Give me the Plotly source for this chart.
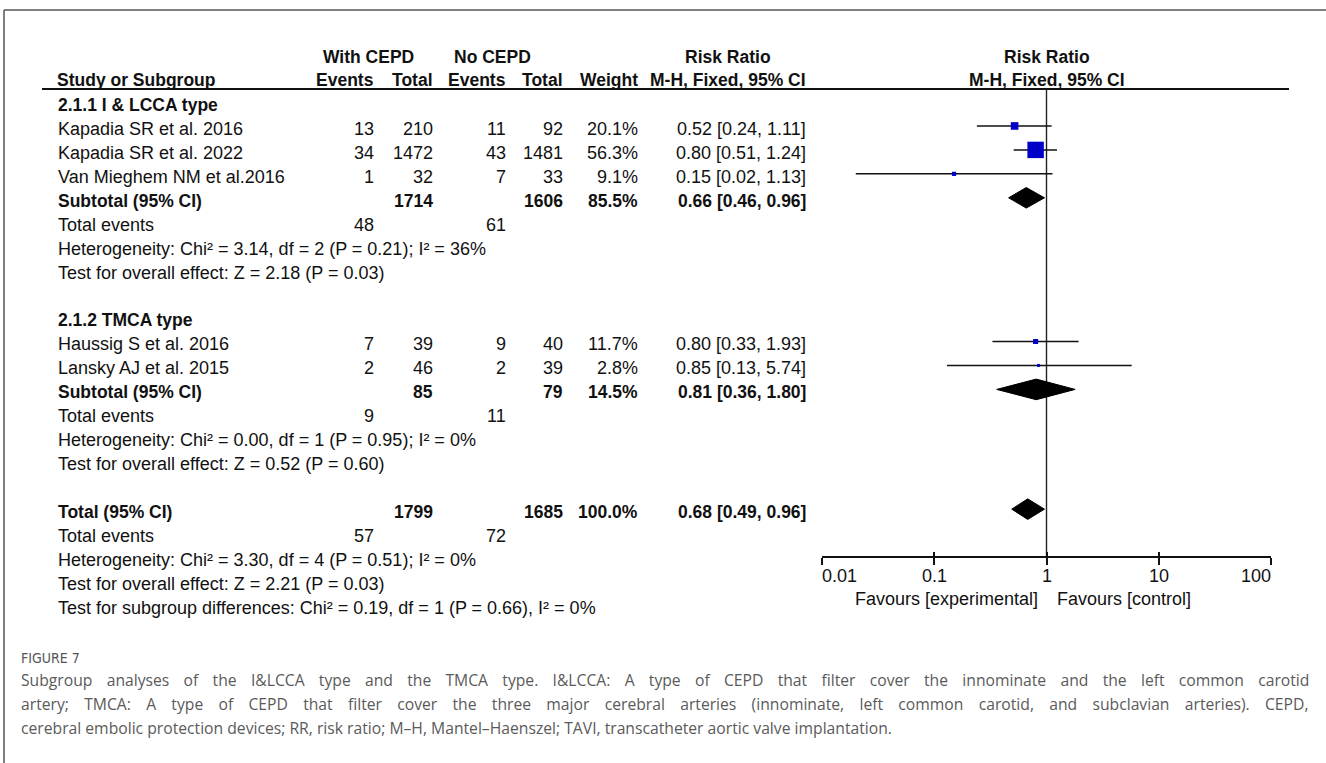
import math
import plotly.graph_objects as go

W, H = 1326, 763

# ---------------- data ----------------
study = ["Kapadia SR et al. 2016", "Kapadia SR et al. 2022", "Van Mieghem NM et al.2016",
         "Haussig S et al. 2016", "Lansky AJ et al. 2015"]
study_group = [0, 0, 0, 1, 1]
ev_cepd = [13, 34, 1, 7, 2]
tot_cepd = [210, 1472, 32, 39, 46]
ev_no = [11, 43, 7, 9, 2]
tot_no = [92, 1481, 33, 40, 39]
weight = [20.1, 56.3, 9.1, 11.7, 2.8]
rr = [0.52, 0.80, 0.15, 0.80, 0.85]
rr_lo = [0.24, 0.51, 0.02, 0.33, 0.13]
rr_hi = [1.11, 1.24, 1.13, 1.93, 5.74]

sub_names = ["2.1.1 I & LCCA type", "2.1.2 TMCA type"]
sub_tot_cepd = [1714, 85]
sub_tot_no = [1606, 79]
sub_weight = [85.5, 14.5]
sub_rr = [0.66, 0.81]
sub_lo = [0.46, 0.36]
sub_hi = [0.96, 1.80]
sub_ev_cepd = [48, 9]
sub_ev_no = [61, 11]
sub_het = ["Heterogeneity: Chi² = 3.14, df = 2 (P = 0.21); I² = 36%",
           "Heterogeneity: Chi² = 0.00, df = 1 (P = 0.95); I² = 0%"]
sub_test = ["Test for overall effect: Z = 2.18 (P = 0.03)",
            "Test for overall effect: Z = 0.52 (P = 0.60)"]

total_cepd = 1799
total_no = 1685
total_weight = 100.0
total_rr = 0.68
total_lo = 0.49
total_hi = 0.96
total_ev_cepd = 57
total_ev_no = 72
total_het = "Heterogeneity: Chi² = 3.30, df = 4 (P = 0.51); I² = 0%"
total_test = "Test for overall effect: Z = 2.21 (P = 0.03)"
subgroup_test = "Test for subgroup differences: Chi² = 0.19, df = 1 (P = 0.66), I² = 0%"

axis_ticks = [0.01, 0.1, 1, 10, 100]
axis_labels = ["0.01", "0.1", "1", "10", "100"]
favours_left = "Favours [experimental]"
favours_right = "Favours [control]"

caption_title = "FIGURE 7"
caption_lines = [
    "Subgroup analyses of the I&LCCA type and the TMCA type. I&LCCA: A type of CEPD that filter cover the innominate and the left common carotid",
    "artery; TMCA: A type of CEPD that filter cover the three major cerebral arteries (innominate, left common carotid, and subclavian arteries). CEPD,",
    "cerebral embolic protection devices; RR, risk ratio; M\u2013H, Mantel\u2013Haenszel; TAVI, transcatheter aortic valve implantation.",
]

# ---------------- layout helpers ----------------
ROW0_PX = 102.0
ROW_H = 23.95
TXT_SHIFT = 0.12   # text sits slightly lower than marks


def prow(py):
    return (py - ROW0_PX) / ROW_H


FONT = "Liberation Sans, Arial, sans-serif"
FS = 18
FSB = 17.5
COL = "#111111"

X_NAME = 58
X_EV1 = 374
X_TOT1 = 433
X_EV2 = 506
X_TOT2 = 563
X_W = 638
X_CI = 806

fig = go.Figure()


def txt(xpx, row, s, anchor="left", bold=False, color=COL, family=FONT):
    fig.add_annotation(x=xpx / W, xref="paper", y=row + TXT_SHIFT, yref="y",
                       text=("<b>%s</b>" % s) if bold else s, showarrow=False,
                       xanchor=anchor, yanchor="middle", borderpad=0, borderwidth=0,
                       font=dict(family=family, size=FSB if bold else FS, color=color))


def ci_text(r, lo, hi):
    return "%.2f [%.2f, %.2f]" % (r, lo, hi)


# headers
txt(368, prow(57) - TXT_SHIFT, "With CEPD", "center", True)
txt(492, prow(57) - TXT_SHIFT, "No CEPD", "center", True)
txt(728, prow(57) - TXT_SHIFT, "Risk Ratio", "center", True)
txt(1047, prow(57) - TXT_SHIFT, "Risk Ratio", "center", True)
hr = prow(80) - TXT_SHIFT
txt(X_NAME - 1, hr, "Study or Subgroup", "left", True)
txt(X_EV1, hr, "Events", "right", True)
txt(X_TOT1, hr, "Total", "right", True)
txt(X_EV2, hr, "Events", "right", True)
txt(X_TOT2, hr, "Total", "right", True)
txt(X_W, hr, "Weight", "right", True)
txt(X_CI, hr, "M-H, Fixed, 95% CI", "right", True)
txt(1047, hr, "M-H, Fixed, 95% CI", "center", True)

# rows
study_rows = []
sub_rows = []
row = 0
for g in range(len(sub_names)):
    txt(X_NAME, row, sub_names[g], "left", True)
    row += 1
    for i in range(len(study)):
        if study_group[i] != g:
            continue
        study_rows.append(row)
        txt(X_NAME, row, study[i])
        txt(X_EV1, row, str(ev_cepd[i]), "right")
        txt(X_TOT1, row, str(tot_cepd[i]), "right")
        txt(X_EV2, row, str(ev_no[i]), "right")
        txt(X_TOT2, row, str(tot_no[i]), "right")
        txt(X_W, row, "%.1f%%" % weight[i], "right")
        txt(X_CI, row, ci_text(rr[i], rr_lo[i], rr_hi[i]), "right")
        row += 1
    sub_rows.append(row)
    txt(X_NAME, row, "Subtotal (95% CI)", "left", True)
    txt(X_TOT1, row, str(sub_tot_cepd[g]), "right", True)
    txt(X_TOT2, row, str(sub_tot_no[g]), "right", True)
    txt(X_W, row, "%.1f%%" % sub_weight[g], "right", True)
    txt(X_CI, row, ci_text(sub_rr[g], sub_lo[g], sub_hi[g]), "right", True)
    row += 1
    txt(X_NAME, row, "Total events")
    txt(X_EV1, row, str(sub_ev_cepd[g]), "right")
    txt(X_EV2, row, str(sub_ev_no[g]), "right")
    row += 1
    txt(X_NAME, row, sub_het[g])
    row += 1
    txt(X_NAME, row, sub_test[g])
    row += 2

total_row = row
txt(X_NAME, row, "Total (95% CI)", "left", True)
txt(X_TOT1, row, str(total_cepd), "right", True)
txt(X_TOT2, row, str(total_no), "right", True)
txt(X_W, row, "%.1f%%" % total_weight, "right", True)
txt(X_CI, row, ci_text(total_rr, total_lo, total_hi), "right", True)
row += 1
txt(X_NAME, row, "Total events")
txt(X_EV1, row, str(total_ev_cepd), "right")
txt(X_EV2, row, str(total_ev_no), "right")
row += 1
txt(X_NAME, row, total_het)
row += 1
txt(X_NAME, row, total_test)
row += 1
txt(X_NAME, row, subgroup_test)

# ---------------- forest plot ----------------
axis_row = prow(557)
line_top = prow(89)

fig.add_trace(go.Scatter(x=[1, 1], y=[line_top, axis_row], mode="lines",
                         line=dict(color="#222222", width=1.4), hoverinfo="skip", showlegend=False))

cx, cy = [], []
for i, r in enumerate(study_rows):
    cx += [rr_lo[i], rr_hi[i], None]
    cy += [r, r, None]
fig.add_trace(go.Scatter(x=cx, y=cy, mode="lines", line=dict(color="#111111", width=1.5),
                         hoverinfo="skip", showlegend=False))

sizes = [max(3.0, 0.8 * w ** 0.75) for w in weight]
fig.add_trace(go.Scatter(x=rr, y=study_rows, mode="markers",
                         marker=dict(symbol="square", size=sizes, color="#0000C8", opacity=1,
                                     line=dict(width=0)),
                         hoverinfo="skip", showlegend=False))

DH = 0.43
diam = [(sub_rows[g], sub_rr[g], sub_lo[g], sub_hi[g]) for g in range(len(sub_names))]
diam.append((total_row, total_rr, total_lo, total_hi))
for (r, est, lo, hi) in diam:
    fig.add_trace(go.Scatter(x=[lo, est, hi, est, lo], y=[r, r - DH, r, r + DH, r],
                             mode="lines", fill="toself", fillcolor="#000000",
                             line=dict(color="#000000", width=1), hoverinfo="skip",
                             showlegend=False))

# dummy trace for the upper tick axis
fig.add_trace(go.Scatter(x=[1], y=[axis_row], xaxis="x2", mode="markers",
                         marker=dict(opacity=0), hoverinfo="skip", showlegend=False))

tick_row = prow(576)
for v, lab, anc in zip(axis_ticks, axis_labels, ["left", "center", "center", "center", "right"]):
    fig.add_annotation(x=math.log10(v), xref="x", y=tick_row, yref="y", text=lab,
                       showarrow=False, xanchor=anc, yanchor="middle", borderpad=0,
                       xshift=(-1 if anc == "left" else (1 if anc == "right" else 0)),
                       font=dict(family=FONT, size=FS, color=COL))
fav_row = prow(599)
fig.add_annotation(x=0, xref="x", y=fav_row, yref="y", text=favours_left, showarrow=False,
                   xanchor="right", yanchor="middle", xshift=-8, borderpad=0,
                   font=dict(family=FONT, size=FS, color=COL))
fig.add_annotation(x=0, xref="x", y=fav_row, yref="y", text=favours_right, showarrow=False,
                   xanchor="left", yanchor="middle", xshift=9, borderpad=0,
                   font=dict(family=FONT, size=FS, color=COL))

# ---------------- caption ----------------
fig.add_annotation(x=20 / W, xref="paper", y=1 - 658 / H, yref="paper", text=caption_title,
                   showarrow=False, xanchor="left", yanchor="middle", borderpad=0,
                   font=dict(family="Liberation Sans Narrow, DejaVu Sans Condensed, sans-serif",
                             size=14, color="#555555"))
word_gap = [10.2, 11.2, 0]
for k, line in enumerate(caption_lines):
    t = line
    if word_gap[k]:
        t = '<span style="word-spacing:%.1fpx">%s</span>' % (word_gap[k], line)
    fig.add_annotation(x=20 / W, xref="paper", y=1 - (680 + 24 * k) / H, yref="paper",
                       text=t, showarrow=False, xanchor="left", yanchor="middle", borderpad=0,
                       font=dict(family="Open Sans, sans-serif", size=15.7, color="#5a5a5a"))

# ---------------- shapes ----------------
shapes = [
    dict(type="line", xref="paper", yref="paper", x0=42 / W, x1=1289 / W,
         y0=1 - 89 / H, y1=1 - 89 / H, line=dict(color="#111111", width=2)),
    dict(type="line", xref="paper", yref="paper", x0=4 / W, x1=4 / W,
         y0=1 - 10 / H, y1=0, line=dict(color="#555555", width=1.5)),
    dict(type="line", xref="paper", yref="paper", x0=4 / W, x1=1,
         y0=1 - 10 / H, y1=1 - 10 / H, line=dict(color="#555555", width=1.5)),
]

xdom = [822 / W, 1271 / W]
fig.update_layout(
    width=W, height=H,
    margin=dict(l=0, r=0, t=0, b=0),
    paper_bgcolor="white", plot_bgcolor="rgba(0,0,0,0)",
    showlegend=False,
    hovermode=False,
    shapes=shapes,
    xaxis=dict(type="log", range=[-2, 2], domain=xdom, anchor="free",
               position=1 - 557 / H, showline=True, linecolor="#111111", linewidth=1.5,
               ticks="outside", ticklen=7, tickwidth=1.5, tickcolor="#111111",
               tickvals=axis_ticks, showticklabels=False, showgrid=False, zeroline=False),
    xaxis2=dict(type="log", range=[-2, 2], domain=xdom, anchor="free", overlaying="x",
                position=1 - 557 / H, showline=False, ticks="inside", ticklen=5,
                tickwidth=1.5, tickcolor="#111111", tickvals=axis_ticks,
                showticklabels=False, showgrid=False, zeroline=False),
    yaxis=dict(range=[prow(H), prow(0)], domain=[0, 1], visible=False, showgrid=False,
               zeroline=False),
)

fig.write_html("out.html", config={"displayModeBar": False},
               post_script="document.body.style.margin='0';document.body.style.padding='0';")
